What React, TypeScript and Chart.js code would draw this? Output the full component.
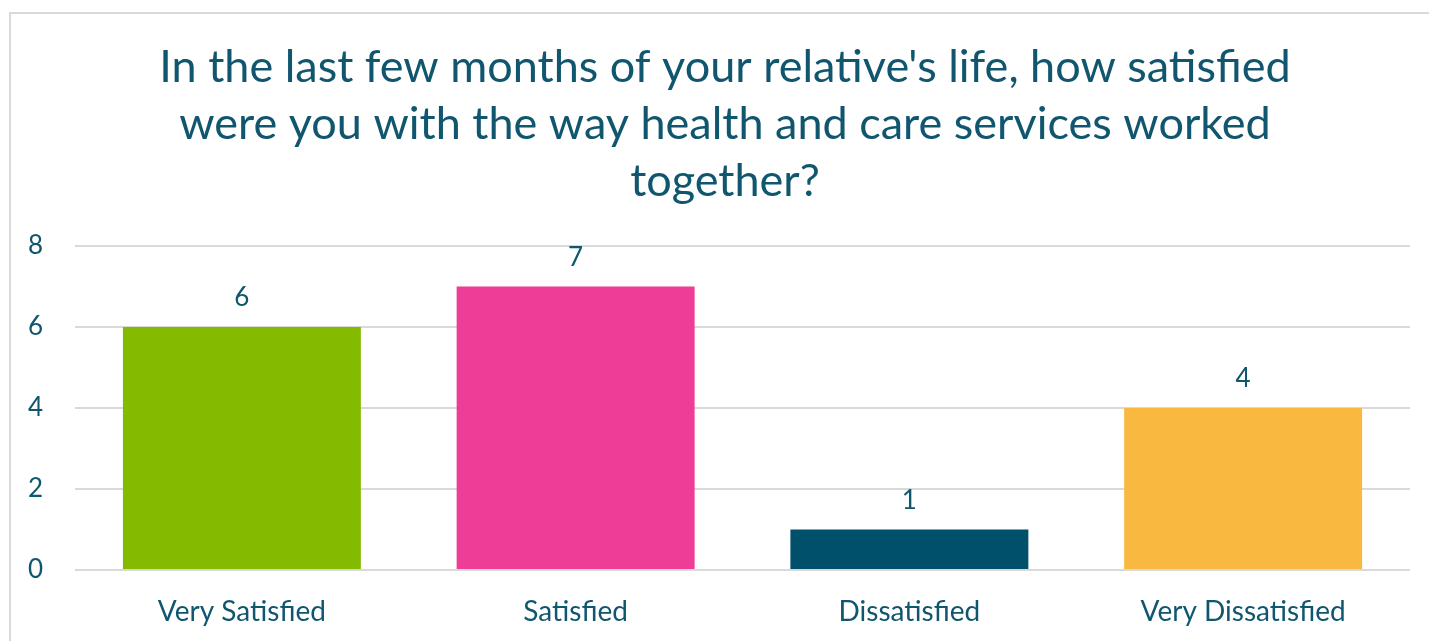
import React, { useEffect, useRef } from "react";
import { Chart, registerables } from "chart.js";

Chart.register(...registerables);

const titleLines = [
  "In the last few months of your relative's life, how satisfied",
  "were you with the way health and care services worked",
  "together?",
];
const categories = ["Very Satisfied", "Satisfied", "Dissatisfied", "Very Dissatisfied"];
const counts = [6, 7, 1, 4];
const barColors = ["#84bb00", "#ee3d96", "#00506b", "#f9b940"];
const yTicks = [0, 2, 4, 6, 8];

const TEXT = "#0f566e";
const FONT = "Lato, 'Open Sans', sans-serif";

const valueLabels = {
  id: "valueLabels",
  afterDatasetsDraw(chart: any) {
    const ctx = chart.ctx;
    const meta = chart.getDatasetMeta(0);
    ctx.save();
    ctx.fillStyle = TEXT;
    ctx.font = `26px ${FONT}`;
    ctx.textAlign = "center";
    ctx.textBaseline = "middle";
    meta.data.forEach((bar: any, i: number) => {
      ctx.fillText(String(counts[i]), bar.x, bar.y - 29);
    });
    ctx.restore();
  },
};

// Title centred on the chart's outer frame (which extends past the canvas on the right)
const frameTitle = {
  id: "frameTitle",
  afterDraw(chart: any) {
    const ctx = chart.ctx;
    ctx.save();
    ctx.fillStyle = TEXT;
    ctx.font = `45px ${FONT}`;
    ctx.textAlign = "center";
    ctx.textBaseline = "middle";
    titleLines.forEach((line, i) => {
      ctx.fillText(line, 725, 67 + i * 57);
    });
    ctx.restore();
  },
};

export default function App() {
  const ref = useRef<HTMLCanvasElement>(null);
  useEffect(() => {
    document.body.style.margin = "0";
    const chart = new Chart(ref.current!, {
      type: "bar",
      data: {
        labels: categories,
        datasets: [
          {
            data: counts,
            backgroundColor: barColors,
            categoryPercentage: 1,
            barPercentage: 0.713,
          },
        ],
      },
      options: {
        animation: false,
        responsive: false,
        layout: { padding: { left: 10, right: 19, top: 246, bottom: 0 } },
        plugins: {
          legend: { display: false },
          tooltip: { enabled: false },
          title: { display: false },
        },
        scales: {
          x: {
            grid: { display: false, drawTicks: false },
            border: { display: false },
            ticks: { color: TEXT, font: { family: FONT, size: 28 }, padding: 25 },
            afterFit(scale: any) {
              scale.height = 71;
            },
          },
          y: {
            min: 0,
            max: 8,
            afterBuildTicks(scale: any) {
              scale.ticks = yTicks.map((v) => ({ value: v }));
            },
            grid: { color: "#d9d9d9", lineWidth: 2, drawTicks: false },
            border: { display: false },
            ticks: { color: TEXT, font: { family: FONT, size: 26 }, padding: 32 },
            afterFit(scale: any) {
              scale.width = 65;
            },
          },
        },
      },
      plugins: [valueLabels, frameTitle],
    });
    return () => chart.destroy();
  }, []);
  return (
    <div style={{ position: "relative", width: 1429, height: 641, overflow: "hidden", background: "#fff" }}>
      <div
        style={{
          position: "absolute",
          left: 9,
          top: 12,
          width: 1440,
          height: 660,
          border: "2.5px solid #d9d9d9",
          boxSizing: "border-box",
        }}
      />
      <canvas ref={ref} width={1429} height={641} style={{ position: "absolute", left: 0, top: 0 }} />
    </div>
  );
}
